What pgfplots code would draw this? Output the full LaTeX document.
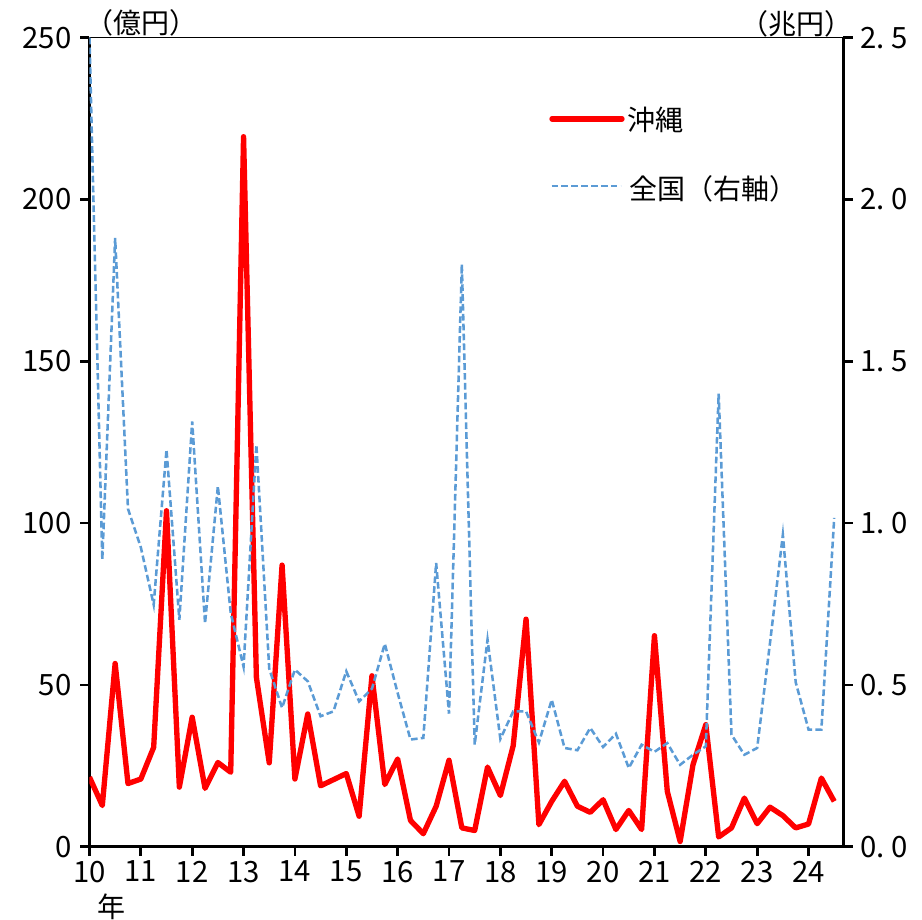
\documentclass[border=0pt]{standalone}
\usepackage{fontspec}
\setmainfont{Noto Sans CJK JP}
\usepackage{pgfplots}
\usepackage{pgfplotstable}
\pgfplotsset{compat=1.18}
\definecolor{jpblue}{RGB}{91,155,213}
\definecolor{jpred}{RGB}{255,0,0}

\pgfplotstableread{
x oki zen
10.00 21.5 2.500
10.25 12.7 0.887
10.50 56.6 1.881
10.75 19.5 1.044
11.00 20.9 0.925
11.25 30.7 0.748
11.50 103.8 1.227
11.75 18.4 0.701
12.00 40.0 1.314
12.25 18.0 0.690
12.50 26.0 1.114
12.75 23.0 0.722
13.00 219.4 0.556
13.25 52.3 1.242
13.50 25.9 0.550
13.75 87.0 0.429
14.00 20.9 0.547
14.25 41.0 0.511
14.50 18.8 0.403
14.75 20.7 0.418
15.00 22.6 0.542
15.25 9.4 0.449
15.50 52.8 0.488
15.75 19.2 0.627
16.00 27.1 0.475
16.25 8.1 0.331
16.50 4.0 0.336
16.75 12.5 0.877
17.00 26.7 0.411
17.25 5.8 1.800
17.50 5.0 0.315
17.75 24.6 0.640
18.00 15.8 0.333
18.25 31.2 0.418
18.50 70.3 0.418
18.75 6.8 0.322
19.00 14.0 0.454
19.25 20.2 0.305
19.50 12.5 0.298
19.75 10.6 0.367
20.00 14.5 0.308
20.25 5.3 0.349
20.50 11.2 0.243
20.75 5.3 0.315
21.00 65.2 0.293
21.25 17.1 0.320
21.50 1.6 0.253
21.75 25.3 0.284
22.00 37.7 0.310
22.25 3.0 1.400
22.50 5.8 0.346
22.75 15.0 0.284
23.00 7.1 0.305
23.25 12.2 0.630
23.50 9.6 0.964
23.75 5.8 0.508
24.00 7.0 0.362
24.25 21.2 0.362
24.50 14.0 1.016
}\datatable

\pgfplotsset{
  common/.style={
    at={(0,0)}, anchor=south west,
    scale only axis, width=565.5pt, height=606.75pt,
    xmin=10, xmax=24.68,
    axis line style={line width=2pt, -},
    ticklabel style={font=\fontsize{22}{24}\selectfont},
    /pgf/number format/assume math mode=true,
  },
  tickset/.style={
    tick align=outside, major tick length=7pt,
    every tick/.style={line width=2pt, black},
    major tick style={line width=2pt, black},
  }
}

\begin{document}
\begin{tikzpicture}
\useasboundingbox (-67.1pt,-55pt) rectangle (624.4pt,635pt);
\begin{axis}[common,
  ymin=0, ymax=250,
  axis y line*=left, axis x line*=bottom,
  tickset,
  xtick={10,...,24}, ytick={0,50,...,250},
  yticklabel style={xshift=-3pt},
]
\addplot[jpred, line width=4pt, line join=round] table[x=x,y=oki]{\datatable};
\draw[line width=1pt, black] (rel axis cs:0,1) -- (rel axis cs:1,1);
\end{axis}
\begin{axis}[common,
  ymin=0, ymax=2.5,
  axis y line*=right, axis x line=none,
  tickset,
  ytick={0,0.5,1,1.5,2,2.5},
  yticklabels={0.\kern5pt0,0.\kern5pt5,1.\kern5pt0,1.\kern5pt5,2.\kern5pt0,2.\kern5pt5},
  yticklabel style={xshift=2pt},
]
\addplot[jpblue, line width=1.9pt, dash pattern=on 5pt off 2.4pt] table[x=x,y=zen]{\datatable};
\end{axis}
\node[font=\fontsize{21}{23}\selectfont, inner sep=0pt] at (39.4pt,617.5pt) {（億円）};
\node[font=\fontsize{21}{23}\selectfont, inner sep=0pt] at (530pt,617pt) {（兆円）};
\node[font=\fontsize{21}{23}\selectfont, inner sep=0pt] at (16.9pt,-45.2pt) {年};
\draw[jpred, line width=4pt, line cap=round] (346.9pt,545.8pt) -- (399.4pt,545.8pt);
\node[font=\fontsize{21}{23}\selectfont, inner sep=0pt, anchor=west] at (403pt,545.4pt) {沖縄};
\draw[jpblue, line width=1.9pt, dash pattern=on 5pt off 2.4pt] (346.6pt,495.5pt) -- (398.4pt,495.5pt);
\node[font=\fontsize{21}{23}\selectfont, inner sep=0pt, anchor=west] at (405pt,493.6pt) {全国（右軸）};
\end{tikzpicture}
\end{document}
